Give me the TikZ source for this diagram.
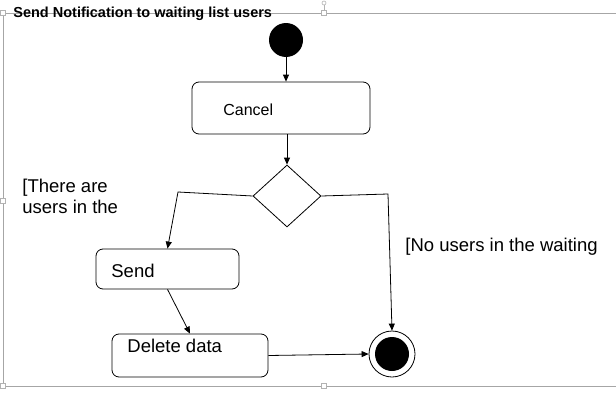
\documentclass[tikz,border=0pt]{standalone}
\usepackage{fontspec}
\setmainfont{Liberation Sans}
\usetikzlibrary{shapes.geometric,arrows.meta}
\tikzset{
	act/.style={draw, rounded corners=7pt, inner sep=0pt},
	lbl/.style={anchor=west, inner sep=0pt, font=\fontsize{18.5}{21}\selectfont, align=left},
	flow/.style={-{Triangle[length=7pt,width=6pt]}},
	handle/.style={draw=gray!60, fill=white, line width=0.6pt, minimum size=5pt, inner sep=0pt}
}
\begin{document}
\begin{tikzpicture}[x=1pt, y=-1pt, line width=0.8pt]
	\useasboundingbox (0,0) rectangle (616,415);
	% frame of the activity
	\draw[gray!70, line width=0.7pt] (616,13) -- (3,13) -- (3,386) -- (616,386);
	\draw[gray!60, line width=0.6pt] (324,13) -- (324,5);
	\node[handle, circle, minimum size=4pt] (rot) at (324,3) {};
	\foreach \x/\y [count=\k] in {3/13, 3/201, 3/386, 324/386, 324/13}{
		\node[handle] (h\k) at (\x,\y) {};
	}
	\node[anchor=west, inner sep=0pt, font=\bfseries\fontsize{14.5}{16}\selectfont] (title) at (13,14) {Send Notification to waiting list users};

	% nodes
	\node[circle, fill, minimum size=34pt, inner sep=0pt] (start) at (286,40) {};
	\node[act, minimum width=178pt, minimum height=52pt] (cancel) at (281,108) {};
	\node[lbl, font=\fontsize{16}{19}\selectfont] (canceltxt) at (223,110) {Cancel};
	\node[draw, diamond, aspect=1.1, minimum width=68pt, minimum height=62pt, inner sep=0pt] (dec) at (287,196) {};
	\node[act, minimum width=143pt, minimum height=40pt] (send) at (167.5,269) {};
	\node[lbl] (sendtxt) at (111,271) {Send};
	\node[act, minimum width=156pt, minimum height=43pt] (del) at (190,355.5) {};
	\node[lbl] (deltxt) at (127,346) {Delete data};
	\node[circle, draw, minimum size=46pt, inner sep=0pt] (fin) at (392,354) {};
	\node[circle, fill, minimum size=34pt, inner sep=0pt] (fincore) at (fin) {};

	% guards
	\node[lbl] (yes) at (22,196) {[There are\\users in the};
	\node[lbl] (no) at (405,247) {[No users in the waiting};

	% connectors
	\coordinate (lbend) at (178,192);
	\coordinate (rbend) at (388,194);
	\draw[flow] (start) -- (start |- cancel.north);
	\draw[flow] (dec.north |- cancel.south) -- (dec.north);
	\draw[flow] (dec.west) -- (lbend) -- (send.north);
	\draw[flow] (dec.east) -- (rbend) -- (fin.north);
	\draw[flow] (send.south) -- (del.north);
	\draw[flow] (del.east) -- (fin.west);
\end{tikzpicture}
\end{document}
